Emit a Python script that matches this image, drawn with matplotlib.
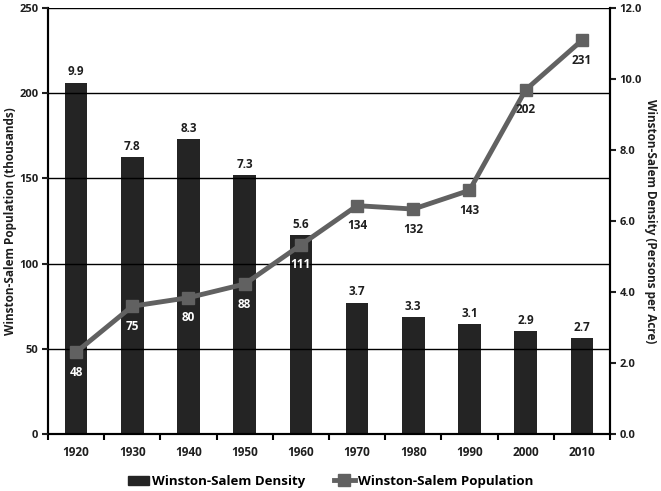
import numpy as np
import matplotlib.pyplot as plt
from matplotlib.patches import Patch
from matplotlib.lines import Line2D

plt.rcParams['font.family'] = ['Open Sans', 'DejaVu Sans']
plt.rcParams['font.weight'] = 'bold'

# --- data ---
years = ['1920', '1930', '1940', '1950', '1960', '1970', '1980', '1990', '2000', '2010']
density = [9.9, 7.8, 8.3, 7.3, 5.6, 3.7, 3.3, 3.1, 2.9, 2.7]      # persons per acre
population = [48, 75, 80, 88, 111, 134, 132, 143, 202, 231]       # thousands

bar_col = '#242424'
line_col = '#616161'
txt_col = '#1e1e1e'

x = np.arange(len(years))

fig = plt.figure(figsize=(6.61, 4.91), dpi=100)
ax = fig.add_axes([0.0726, 0.1161, 0.8502, 0.8676])   # bars, density scale (right)
ax2 = ax.twinx()                                       # line, population scale (left)

# bars on the density axis
ax.bar(x, density, width=0.4, color=bar_col, zorder=2)
ax.set_ylim(0, 12)
ax.set_xlim(-0.5, len(years) - 0.5)
for xi, d in zip(x, density):
    ax.annotate(f"{d:.1f}", (xi, d), xytext=(0, 3), textcoords='offset points',
                ha='center', va='bottom', fontsize=8.5, fontweight='bold', color=txt_col)

# line on the population axis
ax2.plot(x, population, color=line_col, lw=3.5, marker='s', ms=9, zorder=3)
ax2.set_ylim(0, 250)
for i, (xi, p) in enumerate(zip(x, population)):
    c = 'white' if i < 5 else txt_col
    ax2.annotate(str(p), (xi, p), xytext=(0, -14.5), textcoords='offset points',
                 ha='center', va='center', fontsize=8.5, fontweight='bold', color=c, zorder=4)

# swap sides: density ticks on right, population ticks on left
ax.yaxis.tick_right()
ax.yaxis.set_label_position('right')
ax2.yaxis.tick_left()
ax2.yaxis.set_label_position('left')

ax.set_yticks(np.arange(0, 12.1, 2))
ax.set_yticklabels([f"{v:.1f}" for v in np.arange(0, 12.1, 2)])
ax2.set_yticks(np.arange(0, 251, 50))

ax2.grid(axis='y', color='black', lw=1)
ax2.set_axisbelow(False)

# category axis: ticks at boundaries, labels at centres
ax.set_xticks(np.arange(-0.5, len(years), 1))
ax.set_xticklabels([])
ax.set_xticks(x, minor=True)
ax.set_xticklabels(years, minor=True)
ax.tick_params(axis='x', which='minor', length=0, pad=9)
ax.tick_params(axis='x', which='major', length=4, width=1.5, direction='out')

for a in (ax, ax2):
    a.tick_params(axis='y', length=4, width=1.5, direction='out', labelsize=8, colors=txt_col, pad=3)
    a.spines['top'].set_visible(False)
    for s in ('left', 'right', 'bottom'):
        a.spines[s].set_linewidth(1.5)
ax.tick_params(axis='x', which='minor', labelsize=8.5, labelcolor=txt_col)

ax2.set_ylabel("Winston-Salem Population (thousands)", fontsize=8.5, fontweight='bold',
               color=txt_col, labelpad=1.5)
ax.set_ylabel("Winston-Salem Density (Persons per Acre)", fontsize=8.5, fontweight='bold',
              color=txt_col, rotation=270, labelpad=11)

# legend
handles = [Patch(color=bar_col, label='Winston-Salem Density'),
           Line2D([], [], color=line_col, lw=3.5, marker='s', ms=8, label='Winston-Salem Population')]
fig.legend(handles=handles, loc='lower center', bbox_to_anchor=(0.5, -0.018), ncol=2,
           frameon=False, handlelength=1.6, handletextpad=0.2,
           columnspacing=2.2, prop={'weight': 'bold', 'size': 9.5})

fig.savefig('out.png', dpi=100)
